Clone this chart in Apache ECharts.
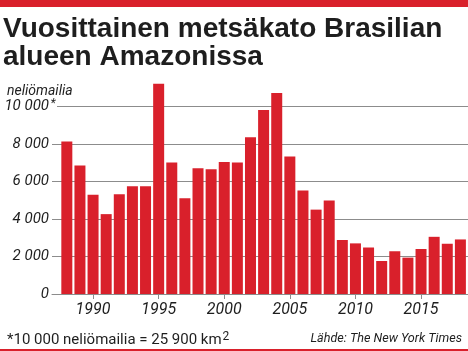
<!DOCTYPE html>
<html>
<head>
<meta charset="utf-8">
<script src="https://cdn.jsdelivr.net/npm/echarts@6/dist/echarts.min.js"></script>
<style>
html,body{margin:0;padding:0;background:#fff;}
#c{width:468px;height:351px;}
</style>
</head>
<body>
<div id="c"></div>
<script>
var years = [1988,1989,1990,1991,1992,1993,1994,1995,1996,1997,1998,1999,2000,2001,2002,2003,2004,2005,2006,2007,2008,2009,2010,2011,2012,2013,2014,2015,2016,2017,2018];
var values = [8130,6860,5300,4260,5320,5750,5750,11220,7010,5110,6710,6660,7040,7010,8360,9810,10720,7340,5520,4500,4990,2880,2700,2480,1760,2280,1940,2400,3050,2680,2910];
var xTicks = [1990,1995,2000,2005,2010,2015];
var yTicks = [0,2000,4000,6000,8000,10000];

var RED = '#d9202b';
var GRID = '#8c8c8c';
var TXT = '#1e1e1e';
var FONT = 'Roboto';

function fmt(v){
  var s = String(v);
  if (v >= 1000) s = s.slice(0, s.length-3) + ' ' + s.slice(s.length-3);
  if (v === 10000) return '{a|' + s + '}{s|*}';
  return '{a|' + s + '}{e|}';
}

var chart = echarts.init(document.getElementById('c'), null, {renderer:'canvas'});
chart.setOption({
  animation:false,
  backgroundColor:'#fff',
  title:[
    {text:'neliömailia', left:2, top:79,
     textStyle:{fontFamily:FONT, fontStyle:'italic', fontWeight:'normal', fontSize:14, color:TXT}},
    {text:'{a|*10 000 neliömailia = 25 900 km}{s|2}', left:2, top:326,
     textStyle:{rich:{
       a:{fontFamily:FONT, fontWeight:'normal', fontSize:15, color:TXT},
       s:{fontFamily:FONT, fontWeight:'normal', fontSize:12, color:TXT, padding:[0,0,6,1]}
     }}},
    {text:'Lähde: The New York Times', right:1, top:327,
     textStyle:{fontFamily:FONT, fontStyle:'italic', fontWeight:'normal', fontSize:12.6, color:TXT}}
  ],
  graphic:[
    {type:'rect', left:0, top:0, shape:{width:468, height:7}, style:{fill:RED}},
    {type:'rect', left:0, top:349, shape:{width:468, height:2}, style:{fill:RED}},
    {type:'text', x:3, y:15, style:{text:'Vuosittainen metsäkato Brasilian', fontFamily:'Liberation Sans', fontWeight:'bold', fontSize:28, fill:TXT}},
    {type:'text', x:3, y:43, style:{text:'alueen Amazonissa', fontFamily:'Liberation Sans', fontWeight:'bold', fontSize:28, fill:TXT}}
  ],
  grid:{left:52, right:0, top:106.5, bottom:57, containLabel:false, outerBoundsMode:'none'},
  xAxis:{
    type:'value', min:1986.87, max:2018.58,
    axisLine:{show:true, lineStyle:{color:GRID, width:1}},
    axisTick:{show:true, customValues:xTicks, length:5, lineStyle:{color:GRID}},
    axisLabel:{customValues:xTicks, formatter:function(v){return String(v);}, fontFamily:FONT, fontStyle:'italic', fontSize:16, color:TXT, margin:8},
    splitLine:{show:false}
  },
  yAxis:{
    type:'value', min:0, max:10000, interval:2000,
    axisLine:{show:false}, axisTick:{show:false},
    axisLabel:{formatter:fmt, margin:-5, color:TXT,
      rich:{
        a:{fontFamily:FONT, fontStyle:'italic', fontSize:15, color:TXT},
        s:{fontFamily:FONT, fontStyle:'italic', fontSize:12, color:TXT, width:8, align:'left', padding:[0,0,5,0], backgroundColor:'#fff'},
        e:{width:8}
      }},
    splitLine:{show:true, lineStyle:{color:GRID, width:1}}
  },
  series:[{
    type:'bar', clip:false, barWidth:11,
    itemStyle:{color:RED},
    data: years.map(function(y,i){return [y, values[i]];}),
    z:1
  }]
});
</script>
</body>
</html>
